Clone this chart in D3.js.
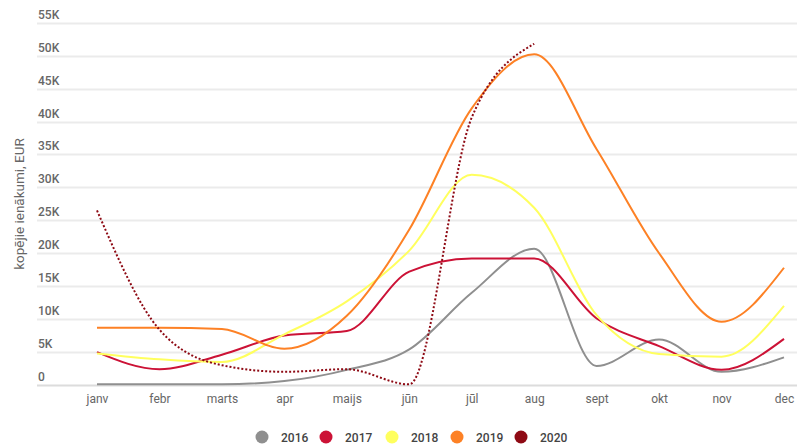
<!DOCTYPE html>
<html>
<head>
<meta charset="utf-8">
<script src="https://cdn.jsdelivr.net/npm/d3@7"></script>
<style>
  html, body { margin: 0; padding: 0; background: #fff; }
  svg { display: block; font-family: Roboto, "Noto Sans", sans-serif; }
</style>
</head>
<body>
<svg id="chart" width="799" height="446"></svg>
<script>
// Monthly total income (EUR) by year
const months = ["janv", "febr", "marts", "apr", "maijs", "jūn", "jūl", "aug", "sept", "okt", "nov", "dec"];
const years = ["2016", "2017", "2018", "2019", "2020"];
const colors = ["#8f8f8f", "#cc1236", "#ffff5e", "#fd8125", "#8e0a14"];
const values2016 = [100, 100, 100, 600, 2300, 5400, 14000, 20700, 2900, 6900, 2000, 4200];
const values2017 = [5000, 2400, 4600, 7500, 8200, 17200, 19200, 19200, 10100, 5900, 2300, 7000];
const values2018 = [4800, 3900, 3500, 7700, 12700, 20400, 31900, 26900, 10600, 4700, 4300, 12000];
const values2019 = [8700, 8700, 8500, 5500, 10500, 23600, 42000, 50200, 35800, 20000, 9600, 17800];
const values2020 = [26500, 8400, 3000, 2000, 2400, 100, 40600, 51800];
const yTicks = [0, 5000, 10000, 15000, 20000, 25000, 30000, 35000, 40000, 45000, 50000, 55000];
const yTitle = "kopējie ienākumi, EUR";

const seriesValues = [values2016, values2017, values2018, values2019, values2020];

const svg = d3.select("#chart");

const x = d3.scalePoint().domain(months).range([97, 784]);
const y = d3.scaleLinear().domain([0, 55000]).range([385, 22.7]);

// Horizontal grid lines
svg.append("g")
  .selectAll("line")
  .data(yTicks)
  .join("line")
  .attr("x1", 37)
  .attr("x2", 797)
  .attr("y1", d => Math.round(y(d)) + 0.5)
  .attr("y2", d => Math.round(y(d)) + 0.5)
  .attr("stroke", d => d === 0 ? "#dcdcdc" : "#ebebeb")
  .attr("stroke-width", 2);

// Y tick labels sit above their grid lines, left aligned
svg.append("g")
  .selectAll("text")
  .data(yTicks)
  .join("text")
  .attr("x", 38)
  .attr("y", d => y(d) - 4)
  .attr("font-size", 12)
  .attr("font-weight", 500)
  .attr("fill", "#666")
  .text(d => d === 0 ? "0" : d3.format("d")(d / 1000) + "K");

// Y axis title
svg.append("text")
  .attr("transform", "translate(24,204) rotate(-90)")
  .attr("text-anchor", "middle")
  .attr("font-size", 13.5)
  .attr("fill", "#666")
  .text(yTitle);

// X axis labels
const xAxis = d3.axisBottom(x).tickSize(0).tickPadding(9);
const gx = svg.append("g").attr("transform", "translate(0,385)").call(xAxis);
gx.select(".domain").remove();
gx.selectAll("text")
  .attr("font-size", 12)
  .attr("font-family", "Roboto, 'Noto Sans', sans-serif")
  .attr("fill", "#666");

// Lines
const line = d3.line()
  .x((d, i) => x(months[i]))
  .y(d => y(d))
  .curve(d3.curveMonotoneX);

svg.append("g")
  .selectAll("path")
  .data(seriesValues)
  .join("path")
  .attr("d", d => line(d))
  .attr("fill", "none")
  .attr("stroke", (d, i) => colors[i])
  .attr("stroke-width", 2)
  .attr("stroke-linejoin", "round")
  .attr("stroke-dasharray", (d, i) => i === 4 ? "2,2" : null);

// Legend
const legendX = [262, 326, 392, 457, 521];
const legend = svg.append("g")
  .selectAll("g")
  .data(years)
  .join("g")
  .attr("transform", (d, i) => `translate(${legendX[i]},437)`);
legend.append("circle")
  .attr("r", 6.5)
  .attr("fill", (d, i) => colors[i]);
legend.append("text")
  .attr("x", 19)
  .attr("y", 4.5)
  .attr("font-size", 12)
  .attr("font-weight", 500)
  .attr("fill", "#444")
  .text(d => d);
</script>
</body>
</html>
